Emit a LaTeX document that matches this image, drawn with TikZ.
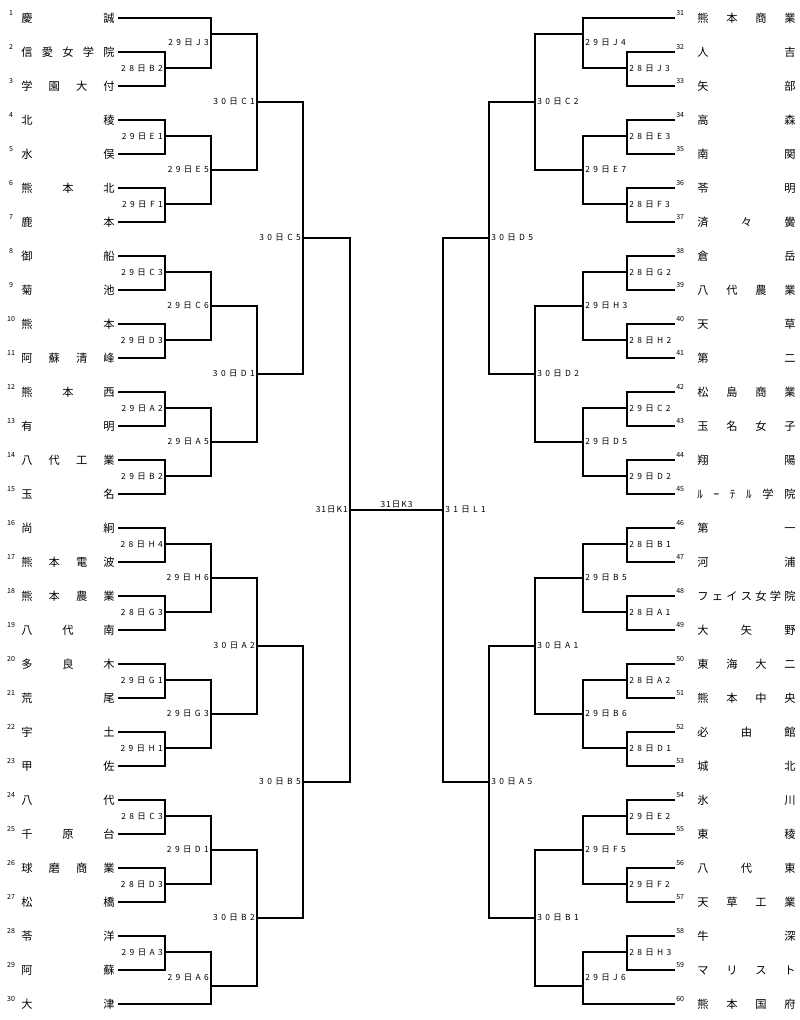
\documentclass[tikz,border=0pt]{standalone}
\usepackage{fontspec}
\usetikzlibrary{calc}
\newfontfamily\namefont{Noto Sans CJK JP}
\newfontfamily\lblfamily{Noto Sans CJK JP}[LetterSpace=40]
\newfontfamily\kfamily{Noto Sans CJK JP}[LetterSpace=12]
\newcommand\lblfont{\lblfamily\fontsize{6}{7}\selectfont}
\newcommand\kfont{\kfamily\fontsize{6}{7}\selectfont}
\newcommand\numfont{\namefont\fontsize{5}{6}\selectfont}
\newcommand\teamfont{\namefont\fontsize{8}{9}\selectfont}
% one match: coordinate, where it is, upper entry, lower entry, text
\newcommand\matchL[5]{%
  \coordinate (#1) at (#2);
  \draw[wire] (#3) -| (#1 |- #4) -- (#4);
  \node[lbl,anchor=east,xshift=-0.8pt] (l#1) at ($(#1 |- #3)!.5!(#1 |- #4)$) {#5};}
\newcommand\matchR[5]{%
  \coordinate (#1) at (#2);
  \draw[wire] (#3) -| (#1 |- #4) -- (#4);
  \node[lbl,anchor=west,xshift=0.8pt] (l#1) at ($(#1 |- #3)!.5!(#1 |- #4)$) {#5};}

\begin{document}
\begin{tikzpicture}[x=0.025cm,y=-0.025cm,
    wire/.style={line width=0.8pt},
    lteam/.style={inner xsep=2.4pt,inner ysep=0pt,font=\teamfont},
    rteam/.style={inner xsep=15.6pt,inner ysep=0pt,font=\teamfont},
    num/.style={inner sep=0pt,font=\numfont},
    lbl/.style={inner sep=0.6pt,font=\lblfont}]
  \useasboundingbox (0,0) rectangle (800,1020);

  % left half
  \foreach \n/\name in {1/慶 誠,2/信 愛 女 学 院,3/学 園 大 付,4/北 稜,5/水 俣,
      6/熊 本 北,7/鹿 本,8/御 船,9/菊 池,10/熊 本,11/阿 蘇 清 峰,12/熊 本 西,
      13/有 明,14/八 代 工 業,15/玉 名,16/尚 絅,17/熊 本 電 波,18/熊 本 農 業,
      19/八 代 南,20/多 良 木,21/荒 尾,22/宇 土,23/甲 佐,24/八 代,25/千 原 台,
      26/球 磨 商 業,27/松 橋,28/苓 洋,29/阿 蘇,30/大 津}{
    \node[lteam] (t\n) at (68,{18+34*(\n-1)}) {\makebox[66.3pt][s]{\name}};
    \node[num,anchor=south] (n\n) at (11,{16+34*(\n-1)}) {\n};
  }
  \matchL{m28B2}{165,68}{t2.east}{t3.east}{28日B2}
  \matchL{m29J3}{211,34}{t1.east}{m28B2}{29日J3}
  \matchL{m29E1}{165,136}{t4.east}{t5.east}{29日E1}
  \matchL{m29F1}{165,204}{t6.east}{t7.east}{29日F1}
  \matchL{m29E5}{211,170}{m29E1}{m29F1}{29日E5}
  \matchL{m30C1}{257,102}{m29J3}{m29E5}{30日C1}
  \matchL{m29C3}{165,272}{t8.east}{t9.east}{29日C3}
  \matchL{m29D3}{165,340}{t10.east}{t11.east}{29日D3}
  \matchL{m29C6}{211,306}{m29C3}{m29D3}{29日C6}
  \matchL{m29A2}{165,408}{t12.east}{t13.east}{29日A2}
  \matchL{m29B2}{165,476}{t14.east}{t15.east}{29日B2}
  \matchL{m29A5}{211,442}{m29A2}{m29B2}{29日A5}
  \matchL{m30D1}{257,374}{m29C6}{m29A5}{30日D1}
  \matchL{m30C5}{303,238}{m30C1}{m30D1}{30日C5}
  \matchL{m28H4}{165,544}{t16.east}{t17.east}{28日H4}
  \matchL{m28G3}{165,612}{t18.east}{t19.east}{28日G3}
  \matchL{m29H6}{211,578}{m28H4}{m28G3}{29日H6}
  \matchL{m29G1}{165,680}{t20.east}{t21.east}{29日G1}
  \matchL{m29H1}{165,748}{t22.east}{t23.east}{29日H1}
  \matchL{m29G3}{211,714}{m29G1}{m29H1}{29日G3}
  \matchL{m30A2}{257,646}{m29H6}{m29G3}{30日A2}
  \matchL{m28C3}{165,816}{t24.east}{t25.east}{28日C3}
  \matchL{m28D3}{165,884}{t26.east}{t27.east}{28日D3}
  \matchL{m29D1}{211,850}{m28C3}{m28D3}{29日D1}
  \matchL{m29A3}{165,952}{t28.east}{t29.east}{29日A3}
  \matchL{m29A6}{211,986}{m29A3}{t30.east}{29日A6}
  \matchL{m30B2}{257,918}{m29D1}{m29A6}{30日B2}
  \matchL{m30B5}{303,782}{m30A2}{m30B2}{30日B5}
  \matchL{m31K1}{350,510}{m30C5}{m30B5}{\kfont 31日K1}

  % right half
  \foreach \n/\name in {31/熊 本 商 業,32/人 吉,33/矢 部,34/高 森,35/南 関,
      36/苓 明,37/済 々 黌,38/倉 岳,39/八 代 農 業,40/天 草,41/第 二,
      42/松 島 商 業,43/玉 名 女 子,44/翔 陽,45/ﾙ ｰ ﾃ ﾙ 学 院,46/第 一,47/河 浦,
      48/フ ェ イ ス 女 学 院,49/大 矢 野,50/東 海 大 二,51/熊 本 中 央,
      52/必 由 館,53/城 北,54/氷 川,55/東 稜,56/八 代 東,57/天 草 工 業,
      58/牛 深,59/マ リ ス ト,60/熊 本 国 府}{
    \node[rteam] (t\n) at (746.5,{18+34*(\n-31)}) {\makebox[69.9pt][s]{\name}};
    \node[num,anchor=south west] (n\n) at (676,{16+34*(\n-31)}) {\n};
  }
  \matchR{m28J3}{627,68}{t32.west}{t33.west}{28日J3}
  \matchR{m29J4}{583,34}{t31.west}{m28J3}{29日J4}
  \matchR{m28E3}{627,136}{t34.west}{t35.west}{28日E3}
  \matchR{m28F3}{627,204}{t36.west}{t37.west}{28日F3}
  \matchR{m29E7}{583,170}{m28E3}{m28F3}{29日E7}
  \matchR{m30C2}{535,102}{m29J4}{m29E7}{30日C2}
  \matchR{m28G2}{627,272}{t38.west}{t39.west}{28日G2}
  \matchR{m28H2}{627,340}{t40.west}{t41.west}{28日H2}
  \matchR{m29H3}{583,306}{m28G2}{m28H2}{29日H3}
  \matchR{m29C2}{627,408}{t42.west}{t43.west}{29日C2}
  \matchR{m29D2}{627,476}{t44.west}{t45.west}{29日D2}
  \matchR{m29D5}{583,442}{m29C2}{m29D2}{29日D5}
  \matchR{m30D2}{535,374}{m29H3}{m29D5}{30日D2}
  \matchR{m30D5}{489,238}{m30C2}{m30D2}{30日D5}
  \matchR{m28B1}{627,544}{t46.west}{t47.west}{28日B1}
  \matchR{m28A1}{627,612}{t48.west}{t49.west}{28日A1}
  \matchR{m29B5}{583,578}{m28B1}{m28A1}{29日B5}
  \matchR{m28A2}{627,680}{t50.west}{t51.west}{28日A2}
  \matchR{m28D1}{627,748}{t52.west}{t53.west}{28日D1}
  \matchR{m29B6}{583,714}{m28A2}{m28D1}{29日B6}
  \matchR{m30A1}{535,646}{m29B5}{m29B6}{30日A1}
  \matchR{m29E2}{627,816}{t54.west}{t55.west}{29日E2}
  \matchR{m29F2}{627,884}{t56.west}{t57.west}{29日F2}
  \matchR{m29F5}{583,850}{m29E2}{m29F2}{29日F5}
  \matchR{m28H3}{627,952}{t58.west}{t59.west}{28日H3}
  \matchR{m29J6}{583,986}{m28H3}{t60.west}{29日J6}
  \matchR{m30B1}{535,918}{m29F5}{m29J6}{30日B1}
  \matchR{m30A5}{489,782}{m30A1}{m30B1}{30日A5}
  \matchR{m31L1}{443,510}{m30D5}{m30A5}{31日L1}

  % final
  \draw[wire] (m31K1) -- node[lbl,font=\kfont,above=0.5pt] (l31K3) {31日K3} (m31L1);
\end{tikzpicture}
\end{document}
